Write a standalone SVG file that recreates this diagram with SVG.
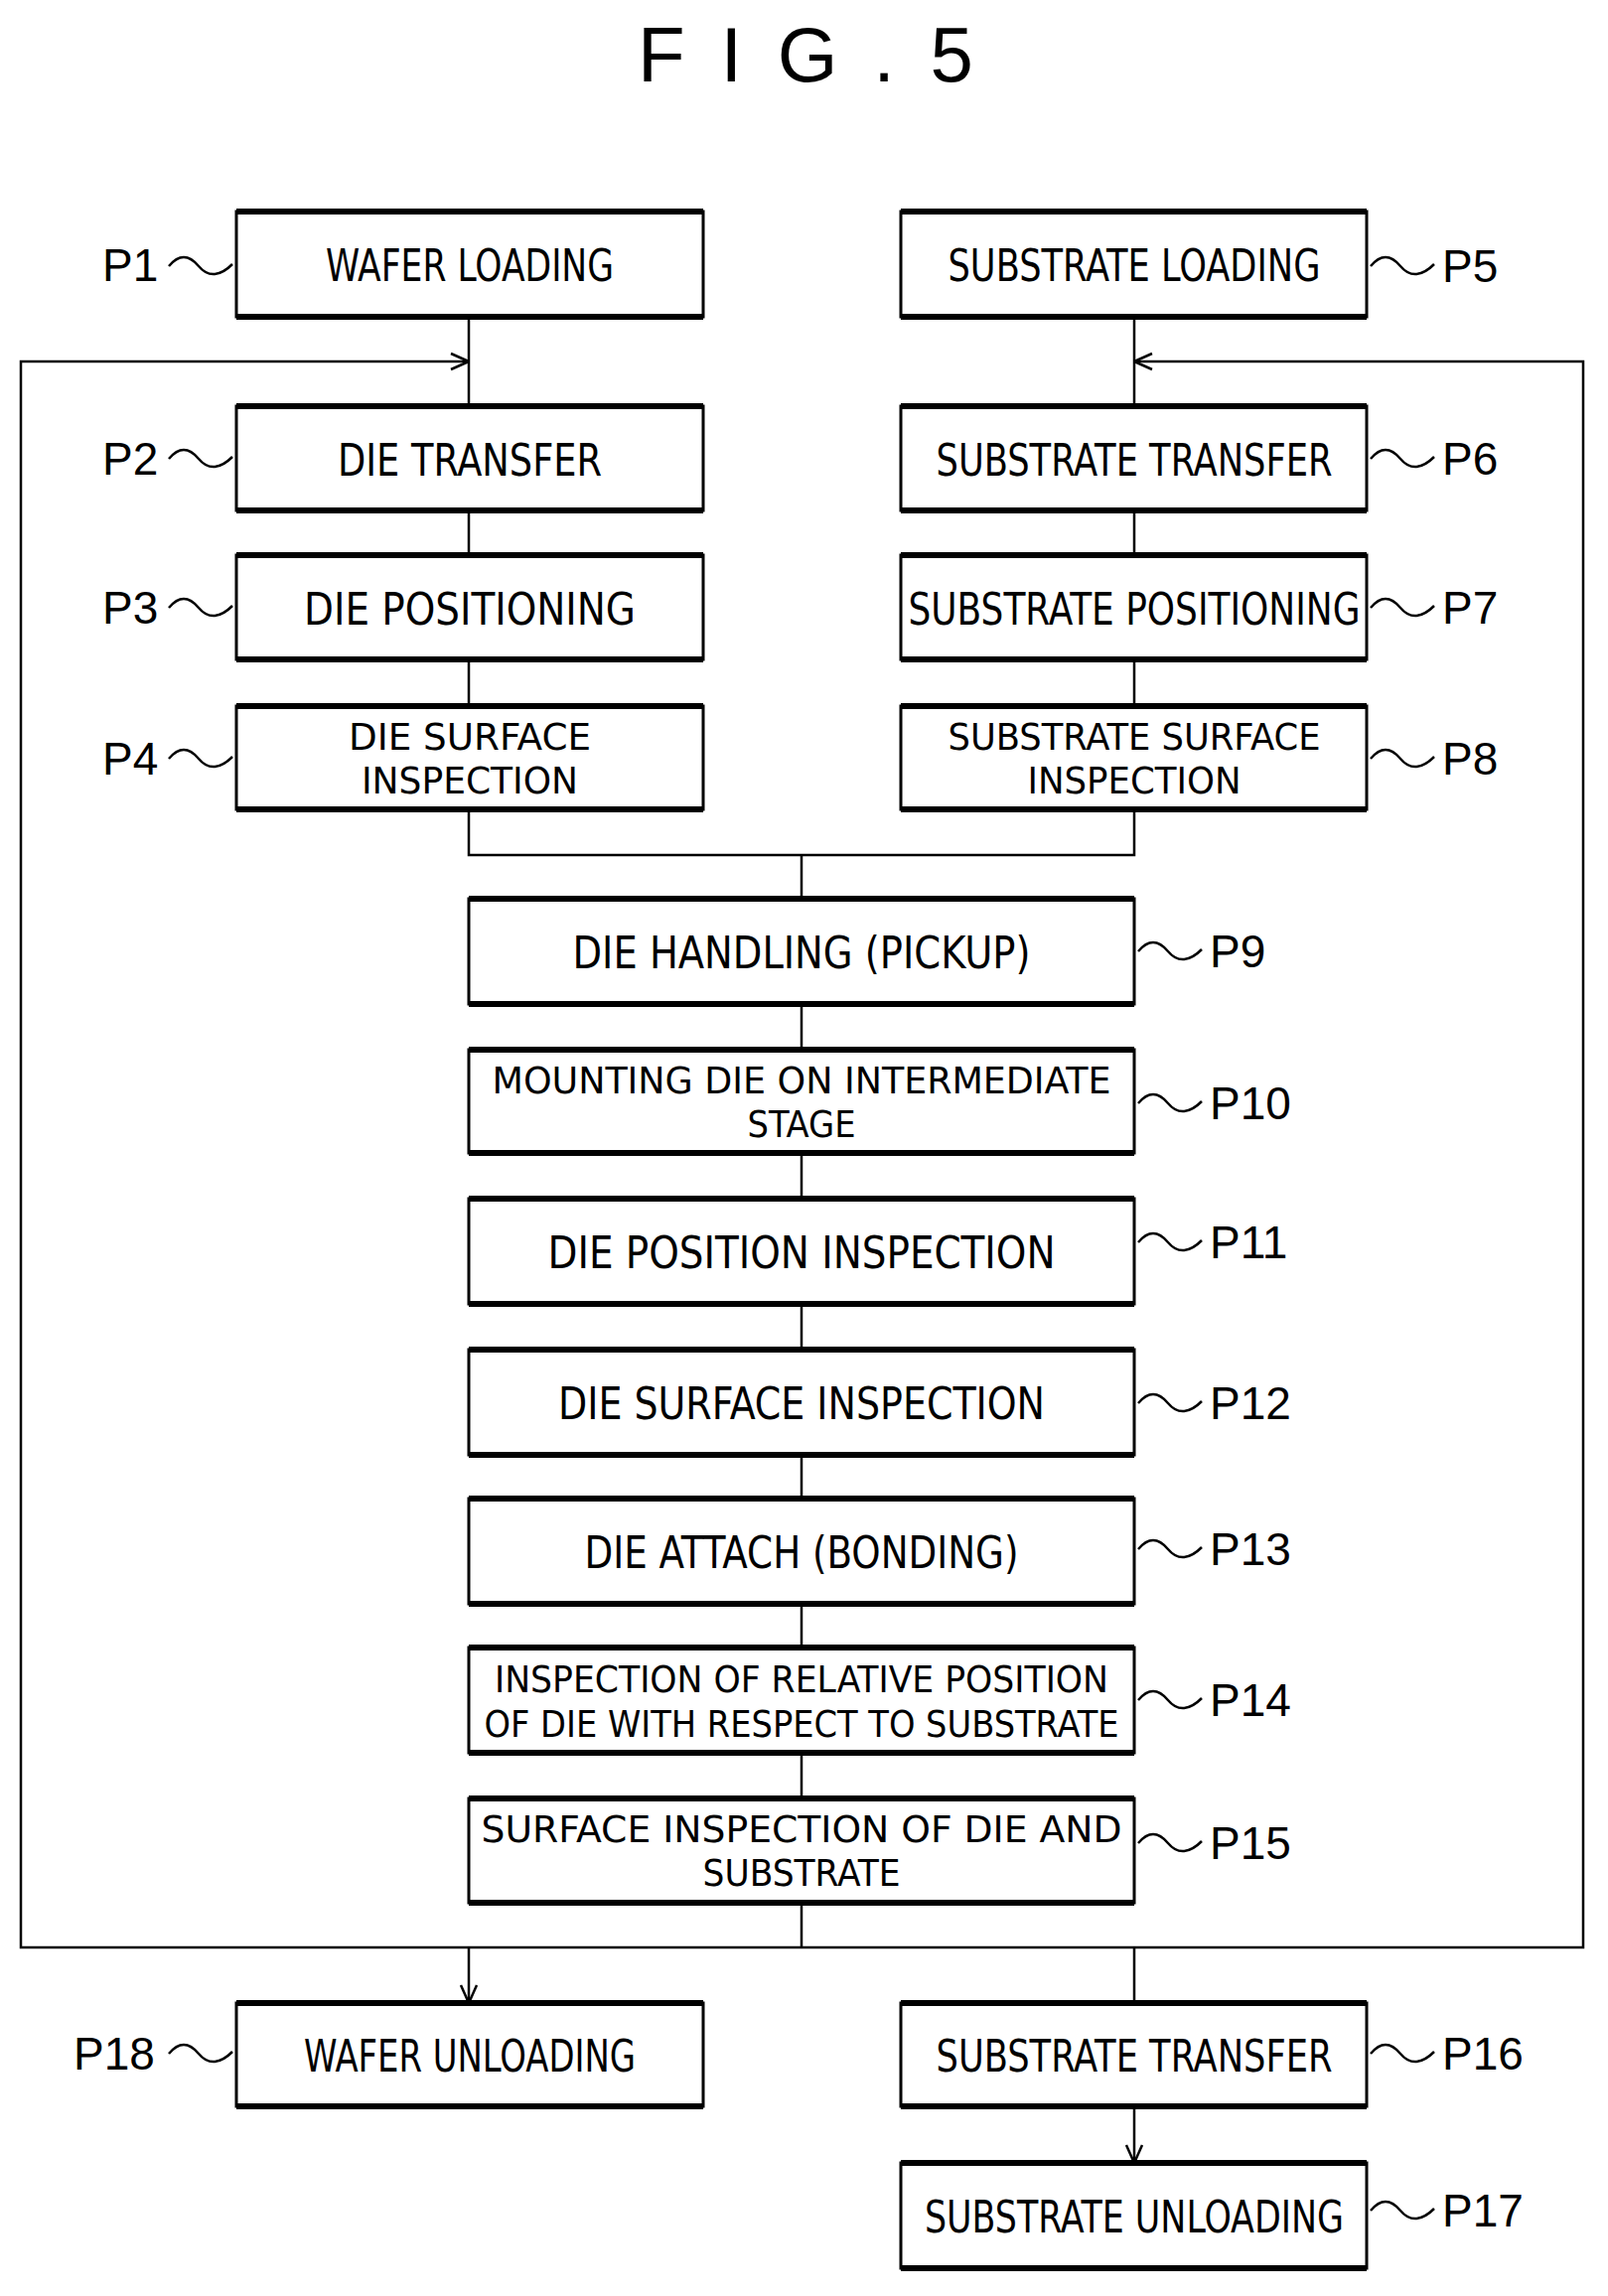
<svg xmlns="http://www.w3.org/2000/svg" width="1619" height="2312" viewBox="0 0 1619 2312">
<style>
.b{fill:#fff;stroke:#000;stroke-width:3}
.tb{stroke:#000;stroke-width:6}
.t{font-family:"DejaVu Sans Condensed","Liberation Sans",sans-serif;font-size:44px;text-anchor:middle}
.t2{font-size:38px}
.p{font-family:"Liberation Sans",sans-serif;font-size:46px}
.w{fill:none;stroke:#000;stroke-width:2.5}
.c{fill:none;stroke:#000;stroke-width:2.5}
</style>
<defs>
<marker id="a" viewBox="0 0 20 20" refX="19" refY="10" markerWidth="20" markerHeight="20" markerUnits="userSpaceOnUse" orient="auto"><path d="M1,2 L19,10 L1,18" fill="none" stroke="#000" stroke-width="2.5"/></marker>
<path id="tl" d="M0,0 c10,-12 20,-12 30,0 s22,10 34,-2"/>
</defs>
<text x="642" y="82" font-family="Liberation Sans,sans-serif" font-size="78" textLength="338" lengthAdjust="spacing">F I G . 5</text>
<g id="connectors">
<path class="c" d="M472,319V409M472,514V559M472,664V711M472,815V861H1142V815M1142,664V711M1142,514V559M1142,319V409M807,861V905M807,1011V1057M807,1161V1207M807,1313V1359M807,1465V1509M807,1615V1659M807,1765V1811M807,1916V1961M1142,1961V2017"/>
<path class="c" stroke-width="3.5" d="M472,1961H21V364H472" marker-end="url(#a)"/>
<path class="c" stroke-width="3.5" d="M472,1961H1594V364H1142" marker-end="url(#a)"/>
<path class="c" d="M472,1961V2017" marker-end="url(#a)"/>
<path class="c" d="M1142,2121V2178" marker-end="url(#a)"/>
</g>
<g id="P1"><rect class="b" x="238" y="213" width="470" height="106"/><path class="tb" d="M238,213H708M238,319H708"/><text class="t" x="473" y="283" textLength="290" lengthAdjust="spacingAndGlyphs">WAFER LOADING</text><text class="p" x="103" y="283">P1</text><use href="#tl" class="w" x="170" y="268"/></g>
<g id="P2"><rect class="b" x="238" y="409" width="470" height="105"/><path class="tb" d="M238,409H708M238,514H708"/><text class="t" x="473" y="479" textLength="266" lengthAdjust="spacingAndGlyphs">DIE TRANSFER</text><text class="p" x="103" y="478">P2</text><use href="#tl" class="w" x="170" y="462"/></g>
<g id="P3"><rect class="b" x="238" y="559" width="470" height="105"/><path class="tb" d="M238,559H708M238,664H708"/><text class="t" x="473" y="629" textLength="334" lengthAdjust="spacingAndGlyphs">DIE POSITIONING</text><text class="p" x="103" y="628">P3</text><use href="#tl" class="w" x="170" y="612"/></g>
<g id="P4"><rect class="b" x="238" y="711" width="470" height="104"/><path class="tb" d="M238,711H708M238,815H708"/><text class="t t2" x="473" y="755" textLength="244" lengthAdjust="spacingAndGlyphs">DIE SURFACE</text><text class="t t2" x="473" y="799" textLength="218" lengthAdjust="spacingAndGlyphs">INSPECTION</text><text class="p" x="103" y="780">P4</text><use href="#tl" class="w" x="170" y="764"/></g>
<g id="P5"><rect class="b" x="907" y="213" width="469" height="106"/><path class="tb" d="M907,213H1376M907,319H1376"/><text class="t" x="1142" y="283" textLength="375" lengthAdjust="spacingAndGlyphs">SUBSTRATE LOADING</text><use href="#tl" class="w" x="1380" y="268"/><text class="p" x="1452" y="284">P5</text></g>
<g id="P6"><rect class="b" x="907" y="409" width="469" height="105"/><path class="tb" d="M907,409H1376M907,514H1376"/><text class="t" x="1142" y="479" textLength="399" lengthAdjust="spacingAndGlyphs">SUBSTRATE TRANSFER</text><use href="#tl" class="w" x="1380" y="462"/><text class="p" x="1452" y="478">P6</text></g>
<g id="P7"><rect class="b" x="907" y="559" width="469" height="105"/><path class="tb" d="M907,559H1376M907,664H1376"/><text class="t" x="1142" y="629" textLength="455" lengthAdjust="spacingAndGlyphs">SUBSTRATE POSITIONING</text><use href="#tl" class="w" x="1380" y="612"/><text class="p" x="1452" y="628">P7</text></g>
<g id="P8"><rect class="b" x="907" y="711" width="469" height="104"/><path class="tb" d="M907,711H1376M907,815H1376"/><text class="t t2" x="1142" y="755" textLength="375" lengthAdjust="spacingAndGlyphs">SUBSTRATE SURFACE</text><text class="t t2" x="1142" y="799" textLength="215" lengthAdjust="spacingAndGlyphs">INSPECTION</text><use href="#tl" class="w" x="1380" y="764"/><text class="p" x="1452" y="780">P8</text></g>
<g id="P9"><rect class="b" x="472" y="905" width="670" height="106"/><path class="tb" d="M472,905H1142M472,1011H1142"/><text class="t" x="807" y="975" textLength="461" lengthAdjust="spacingAndGlyphs">DIE HANDLING (PICKUP)</text><use href="#tl" class="w" x="1146" y="958"/><text class="p" x="1218" y="974">P9</text></g>
<g id="P10"><rect class="b" x="472" y="1057" width="670" height="104"/><path class="tb" d="M472,1057H1142M472,1161H1142"/><text class="t t2" x="807" y="1101" textLength="623" lengthAdjust="spacingAndGlyphs">MOUNTING DIE ON INTERMEDIATE</text><text class="t t2" x="807" y="1145" textLength="109" lengthAdjust="spacingAndGlyphs">STAGE</text><use href="#tl" class="w" x="1146" y="1111"/><text class="p" x="1218" y="1127">P10</text></g>
<g id="P11"><rect class="b" x="472" y="1207" width="670" height="106"/><path class="tb" d="M472,1207H1142M472,1313H1142"/><text class="t" x="807" y="1277" textLength="511" lengthAdjust="spacingAndGlyphs">DIE POSITION INSPECTION</text><use href="#tl" class="w" x="1146" y="1251"/><text class="p" x="1218" y="1267">P11</text></g>
<g id="P12"><rect class="b" x="472" y="1359" width="670" height="106"/><path class="tb" d="M472,1359H1142M472,1465H1142"/><text class="t" x="807" y="1429" textLength="490" lengthAdjust="spacingAndGlyphs">DIE SURFACE INSPECTION</text><use href="#tl" class="w" x="1146" y="1413"/><text class="p" x="1218" y="1429">P12</text></g>
<g id="P13"><rect class="b" x="472" y="1509" width="670" height="106"/><path class="tb" d="M472,1509H1142M472,1615H1142"/><text class="t" x="807" y="1579" textLength="437" lengthAdjust="spacingAndGlyphs">DIE ATTACH (BONDING)</text><use href="#tl" class="w" x="1146" y="1560"/><text class="p" x="1218" y="1576">P13</text></g>
<g id="P14"><rect class="b" x="472" y="1659" width="670" height="106"/><path class="tb" d="M472,1659H1142M472,1765H1142"/><text class="t t2" x="807" y="1704" textLength="618" lengthAdjust="spacingAndGlyphs">INSPECTION OF RELATIVE POSITION</text><text class="t t2" x="807" y="1749" textLength="639" lengthAdjust="spacingAndGlyphs">OF DIE WITH RESPECT TO SUBSTRATE</text><use href="#tl" class="w" x="1146" y="1712"/><text class="p" x="1218" y="1728">P14</text></g>
<g id="P15"><rect class="b" x="472" y="1811" width="670" height="105"/><path class="tb" d="M472,1811H1142M472,1916H1142"/><text class="t t2" x="807" y="1855" textLength="645" lengthAdjust="spacingAndGlyphs">SURFACE INSPECTION OF DIE AND</text><text class="t t2" x="807" y="1899" textLength="199" lengthAdjust="spacingAndGlyphs">SUBSTRATE</text><use href="#tl" class="w" x="1146" y="1856"/><text class="p" x="1218" y="1872">P15</text></g>
<g id="P18"><rect class="b" x="238" y="2017" width="470" height="104"/><path class="tb" d="M238,2017H708M238,2121H708"/><text class="t" x="473" y="2086" textLength="334" lengthAdjust="spacingAndGlyphs">WAFER UNLOADING</text><text class="p" x="74" y="2084">P18</text><use href="#tl" class="w" x="170" y="2068"/></g>
<g id="P16"><rect class="b" x="907" y="2017" width="469" height="104"/><path class="tb" d="M907,2017H1376M907,2121H1376"/><text class="t" x="1142" y="2086" textLength="399" lengthAdjust="spacingAndGlyphs">SUBSTRATE TRANSFER</text><use href="#tl" class="w" x="1380" y="2068"/><text class="p" x="1452" y="2084">P16</text></g>
<g id="P17"><rect class="b" x="907" y="2178" width="469" height="106"/><path class="tb" d="M907,2178H1376M907,2284H1376"/><text class="t" x="1142" y="2248" textLength="422" lengthAdjust="spacingAndGlyphs">SUBSTRATE UNLOADING</text><use href="#tl" class="w" x="1380" y="2226"/><text class="p" x="1452" y="2242">P17</text></g>
</svg>
